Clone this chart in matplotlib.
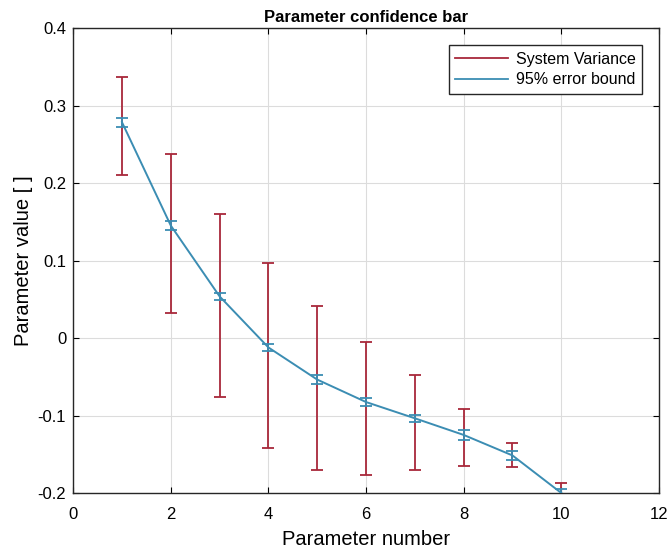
import numpy as np
import matplotlib
matplotlib.use("Agg")
import matplotlib.pyplot as plt

plt.rcParams['font.family'] = ['Liberation Sans', 'DejaVu Sans']

# parameter index and estimated values
param_no = np.arange(1, 11)
estimate = [0.279, 0.1455, 0.054, -0.012, -0.0535, -0.0825, -0.1035, -0.125, -0.1515, -0.200]
bound_95 = [0.0058, 0.0055, 0.0048, 0.0043, 0.0055, 0.0055, 0.0042, 0.006, 0.0055, 0.005]

# system variance bars: lower / upper ends
var_low = [0.211, 0.032, -0.0754, -0.142, -0.170, -0.177, -0.1706, -0.165, -0.167, -0.213]
var_high = [0.337, 0.238, 0.161, 0.097, 0.042, -0.005, -0.0474, -0.091, -0.135, -0.187]

red = '#a8283a'
blue = '#3b8db3'

fig = plt.figure(figsize=(6.71, 5.53), dpi=100)
ax = fig.add_axes([0.109, 0.1085, 0.873, 0.840])

lo = np.array(var_low)
hi = np.array(var_high)
ax.errorbar(param_no, (lo + hi) / 2, yerr=(hi - lo) / 2, fmt='none',
            ecolor=red, elinewidth=1.3, capsize=4, capthick=1.3,
            label='System Variance', zorder=3)
ax.errorbar(param_no, estimate, yerr=bound_95, color=blue, ecolor=blue,
            linewidth=1.4, elinewidth=1.3, capsize=4, capthick=1.3,
            label='95% error bound', zorder=4)

ax.set_xlim(0, 12)
ax.set_ylim(-0.2, 0.4)
ax.set_xticks(np.arange(0, 13, 2))
ax.set_yticks(np.arange(-0.2, 0.41, 0.1))
ax.set_yticklabels(['-0.2', '-0.1', '0', '0.1', '0.2', '0.3', '0.4'])
ax.grid(True, color='#dcdcdc', linewidth=0.8)
ax.set_axisbelow(True)
ax.tick_params(direction='in', top=True, right=True, labelsize=12, length=4)
ax.tick_params(axis='x', pad=10)
ax.tick_params(axis='y', pad=5)
for s in ax.spines.values():
    s.set_linewidth(1.0)
    s.set_color('#262626')

ax.set_xlabel('Parameter number', fontsize=14.5, labelpad=6)
ax.set_ylabel('Parameter value [ ]', fontsize=14.5, labelpad=3)
ax.set_title('Parameter confidence bar', fontsize=12, fontweight='bold', pad=5)

handles = [plt.Line2D([], [], color=red, lw=1.3), plt.Line2D([], [], color=blue, lw=1.3)]
leg = ax.legend(handles, ['System Variance', '95% error bound'], loc='upper right',
                fontsize=11.5, fancybox=False, framealpha=1, edgecolor='#262626',
                handlelength=3.3, borderaxespad=1.05, handletextpad=0.5,
                labelspacing=0.35)
leg.get_frame().set_linewidth(1.0)

fig.savefig('out.png', dpi=100)
